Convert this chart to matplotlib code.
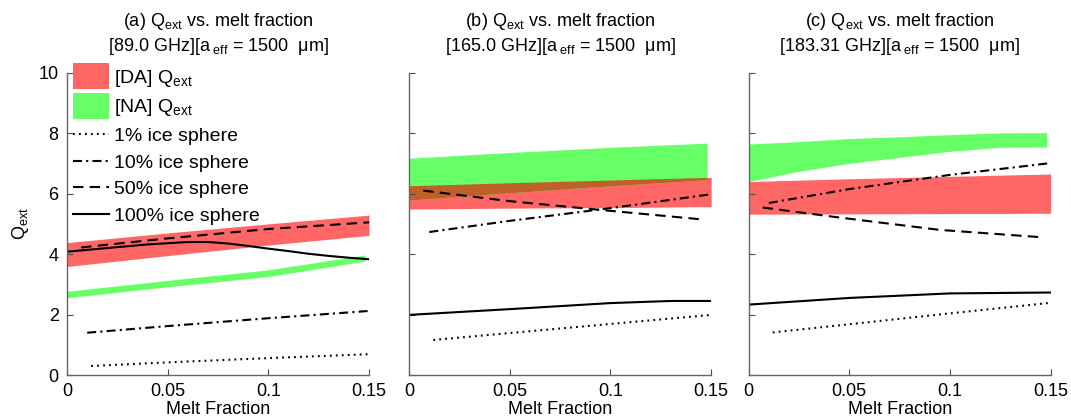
import numpy as np
import matplotlib
matplotlib.use('Agg')
import matplotlib.pyplot as plt
from matplotlib.patches import Rectangle
from matplotlib.lines import Line2D
from matplotlib.legend_handler import HandlerPatch

plt.rcParams['font.family'] = ['Liberation Sans', 'DejaVu Sans']
plt.rcParams['mathtext.fontset'] = 'custom'
plt.rcParams['mathtext.rm'] = 'Liberation Sans'
plt.rcParams['mathtext.it'] = 'Liberation Sans:italic'
plt.rcParams['mathtext.bf'] = 'Liberation Sans:bold'
plt.rcParams['lines.scale_dashes'] = False

# panel labels / frequencies
panels = ['(a)', '(b)', '(c)']
freqs = ['89.0', '165.0', '183.31']

# ---- Qext bands (DA = red, NA = green), lower / upper edges
da_x = [[0, 0.05, 0.1, 0.15],
        [0, 0.05, 0.1, 0.15],
        [0, 0.05, 0.1, 0.15]]
da_lo = [[3.59, 3.95, 4.30, 4.62],
         [5.49, 5.52, 5.54, 5.57],
         [5.32, 5.33, 5.34, 5.35]]
da_hi = [[4.38, 4.70, 5.00, 5.29],
         [6.26, 6.36, 6.45, 6.54],
         [6.40, 6.49, 6.57, 6.65]]

na_x = [[0, 0.05, 0.1, 0.148],
        [0, 0.05, 0.1, 0.148],
        [0, 0.025, 0.05, 0.075, 0.1, 0.125, 0.148]]
na_lo = [[2.56, 2.92, 3.26, 3.77],
         [5.79, 6.03, 6.26, 6.46],
         [6.40, 6.74, 7.00, 7.20, 7.40, 7.53, 7.54]]
na_hi = [[2.77, 3.13, 3.48, 3.97],
         [7.17, 7.36, 7.53, 7.67],
         [7.64, 7.72, 7.82, 7.88, 7.95, 8.01, 8.02]]

# ---- ice sphere curves
s1_x = [[0.012, 0.05, 0.1, 0.15], [0.012, 0.05, 0.1, 0.15], [0.012, 0.05, 0.1, 0.15]]
s1_y = [[0.30, 0.42, 0.56, 0.69], [1.16, 1.39, 1.69, 1.99], [1.41, 1.68, 2.04, 2.39]]

s10_x = [[0.01, 0.05, 0.1, 0.15], [0.01, 0.05, 0.1, 0.15], [0.01, 0.05, 0.1, 0.15]]
s10_y = [[1.40, 1.62, 1.88, 2.12], [4.73, 5.10, 5.52, 5.98], [5.69, 6.15, 6.62, 7.01]]

s50_x = [[0.007, 0.05, 0.1, 0.15], [0.007, 0.05, 0.1, 0.145], [0.007, 0.045, 0.095, 0.145]]
s50_y = [[4.22, 4.52, 4.83, 5.05], [6.10, 5.75, 5.43, 5.15], [5.54, 5.21, 4.80, 4.56]]

s100_x = [[0, 0.02, 0.04, 0.06, 0.07, 0.08, 0.09, 0.1, 0.11, 0.12, 0.13, 0.14, 0.15],
          [0, 0.05, 0.1, 0.13, 0.15],
          [0, 0.05, 0.1, 0.15]]
s100_y = [[4.08, 4.20, 4.32, 4.40, 4.40, 4.35, 4.27, 4.18, 4.10, 4.01, 3.94, 3.88, 3.83],
          [1.99, 2.18, 2.38, 2.45, 2.45],
          [2.33, 2.55, 2.70, 2.73]]

red = '#FF6666'
green = '#66FF66'
brown = '#BF6028'

dot = (0, (1.3, 3.0))
dashdot = (0, (6.5, 3.0, 1.5, 3.0))
dash = (0, (7.5, 4.5))
lw = 1.5

fig = plt.figure(figsize=(10.71, 4.2), dpi=100)
lefts = [0.0626, 0.382, 0.699]

for i in range(3):
    ax = fig.add_axes([lefts[i], 0.107, 0.282, 0.720])

    ax.fill_between(da_x[i], da_lo[i], da_hi[i], color=red, lw=0)
    ax.fill_between(na_x[i], na_lo[i], na_hi[i], color=green, lw=0)
    # overlap of the two bands
    xx = np.linspace(0, min(da_x[i][-1], na_x[i][-1]), 200)
    top = np.minimum(np.interp(xx, da_x[i], da_hi[i]), np.interp(xx, na_x[i], na_hi[i]))
    bot = np.maximum(np.interp(xx, da_x[i], da_lo[i]), np.interp(xx, na_x[i], na_lo[i]))
    ax.fill_between(xx, bot, top, where=top > bot, color=brown, lw=0)

    ax.plot(s1_x[i], s1_y[i], color='k', lw=lw, linestyle=dot)
    ax.plot(s10_x[i], s10_y[i], color='k', lw=lw, linestyle=dashdot)
    ax.plot(s50_x[i], s50_y[i], color='k', lw=lw, linestyle=dash)
    ax.plot(s100_x[i], s100_y[i], color='k', lw=lw)

    ax.set_xlim(0, 0.15)
    ax.set_ylim(0, 10)
    ax.set_xticks([0, 0.05, 0.1, 0.15])
    ax.set_xticklabels(['0', '0.05', '0.1', '0.15'])
    ax.set_yticks([0, 2, 4, 6, 8, 10])
    ax.tick_params(direction='in', length=4, width=0.8, color='0.3', labelsize=13, pad=6)
    if i > 0:
        ax.set_yticklabels([])
    for side in ['top', 'right']:
        ax.spines[side].set_visible(False)
    for side in ['left', 'bottom']:
        ax.spines[side].set_color('0.4')
        ax.spines[side].set_linewidth(1.0)

    ax.set_title(panels[i] + r' Q$_{\mathrm{ext}}$ vs. melt fraction' + '\n'
                 + '[' + freqs[i] + r' GHz][a$_{\mathrm{\ eff}}$ = 1500  μm]',
                 fontsize=13, pad=15.5, linespacing=1.3)
    ax.set_xlabel('Melt Fraction', fontsize=13)
    ax.xaxis.set_label_coords(0.5, -0.085)
    if i == 0:
        ax.set_ylabel(r'Q$_{\mathrm{ext}}$', fontsize=13)
        ax.yaxis.set_label_coords(-0.12, 0.5)

        def tall_patch(legend, orig_handle, xdescent, ydescent, width, height, fontsize):
            return Rectangle((-xdescent, -ydescent - 0.45 * height), width, height * 1.9)

        handles = [Rectangle((0, 0), 1, 1, color=red, lw=0),
                   Rectangle((0, 0), 1, 1, color=green, lw=0),
                   Line2D([], [], color='k', lw=lw, linestyle=dot),
                   Line2D([], [], color='k', lw=lw, linestyle=dashdot),
                   Line2D([], [], color='k', lw=lw, linestyle=dash),
                   Line2D([], [], color='k', lw=lw)]
        labels = [r'[DA] Q$_{\mathrm{ext}}$', r'[NA] Q$_{\mathrm{ext}}$',
                  '1% ice sphere', '10% ice sphere', '50% ice sphere', '100% ice sphere']
        ax.legend(handles, labels, loc='upper left', bbox_to_anchor=(0.019, 1.017),
                  borderaxespad=0, borderpad=0, frameon=False, fontsize=14,
                  handlelength=1.85, handletextpad=0.25, labelspacing=0.46,
                  handler_map={Rectangle: HandlerPatch(patch_func=tall_patch)})

fig.savefig('out.png', dpi=100)
